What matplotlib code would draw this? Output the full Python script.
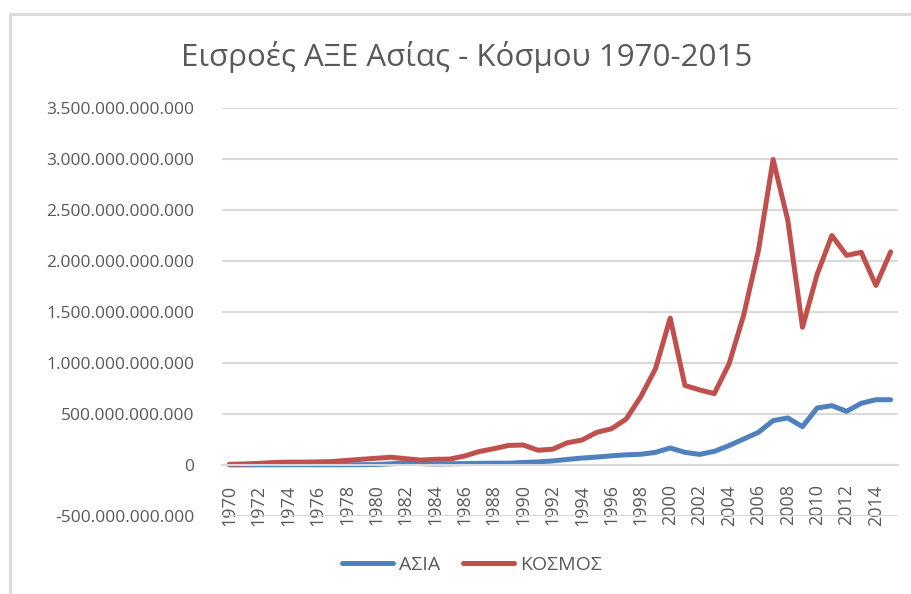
import numpy as np
import matplotlib
matplotlib.use("Agg")
from matplotlib import pyplot as plt
from matplotlib.lines import Line2D
from matplotlib.ticker import FuncFormatter, MultipleLocator

# Data: FDI inflows (billions USD)
years = list(range(1970, 2016))
asia = [1, 1, 2, 2, 3, 3, 2, 2, 3, 3,
        5, 12, 22, 14, 10, 12, 14, 16, 18, 18,
        25, 30, 40, 55, 68, 78, 90, 100, 105, 124,
        167, 124, 104, 134, 190, 255, 320, 435, 461, 376,
        559, 582, 526, 605, 640, 640]
world = [7, 10, 16, 24, 28, 28, 30, 34, 45, 56,
         66, 76, 62, 48, 56, 58, 88, 132, 160, 192,
         196, 145, 155, 218, 245, 320, 355, 450, 670, 945,
         1440, 780, 736, 700, 990, 1470, 2100, 2995, 2400, 1350,
         1870, 2250, 2055, 2085, 1760, 2090]
labels = ["ΑΣΙΑ", "ΚΟΣΜΟΣ"]
colors = ["#4F81BD", "#C0504D"]
title = "Εισροές ΑΞΕ Ασίας - Κόσμου 1970-2015"

plt.rcParams['font.family'] = ['Open Sans', 'DejaVu Sans']
text_color = "#595959"
grid_color = "#D9D9D9"

fig = plt.figure(figsize=(9.12, 5.94), dpi=100)
ax = fig.add_axes([222 / 912, 78 / 594, (898 - 222) / 912, (516 - 108) / 594])

x = np.array(years)
for vals, lab, col in zip([asia, world], labels, colors):
    ax.plot(x, np.array(vals) * 1e9, color=col, lw=3.6, label=lab,
            solid_capstyle="round", solid_joinstyle="round")

ax.set_xlim(1969.5, 2015.5)
ax.set_ylim(-500e9, 3500e9)
ax.yaxis.set_major_locator(MultipleLocator(500e9))
ax.yaxis.set_major_formatter(FuncFormatter(lambda v, p: f"{v:,.0f}".replace(",", ".")))
ax.grid(axis="y", color=grid_color, lw=1.5)
ax.set_axisbelow(True)

ax.set_xticks(years[::2])
ax.set_xticklabels([str(y) for y in years[::2]])
ax.spines['bottom'].set_position(('data', 0))
ax.spines['bottom'].set_color(grid_color)
ax.spines['bottom'].set_linewidth(1.5)
for s in ["top", "right", "left"]:
    ax.spines[s].set_visible(False)
ax.tick_params(axis="x", length=0, pad=14, labelsize=13, labelcolor=text_color,
               labelrotation=90)
ax.tick_params(axis="y", length=0, pad=20, labelsize=12.5, labelcolor=text_color)

fig.text(467 / 912, 1 - 57 / 594, title, ha="center", va="center",
         fontsize=22.5, color=text_color)

ax.legend(loc="center", bbox_to_anchor=(472 / 912, 1 - 565 / 594),
          bbox_transform=fig.transFigure, ncol=2, frameon=False,
          fontsize=14, labelcolor=text_color, handlelength=2.6,
          handletextpad=0.3, columnspacing=1.2)

# chart frame (only top and left edges are visible in the crop)
fig.add_artist(Line2D([10 / 912, 10 / 912, 1], [0, 1 - 14 / 594, 1 - 14 / 594],
                      transform=fig.transFigure, color=grid_color, lw=2))

fig.savefig("out.png", dpi=100)
